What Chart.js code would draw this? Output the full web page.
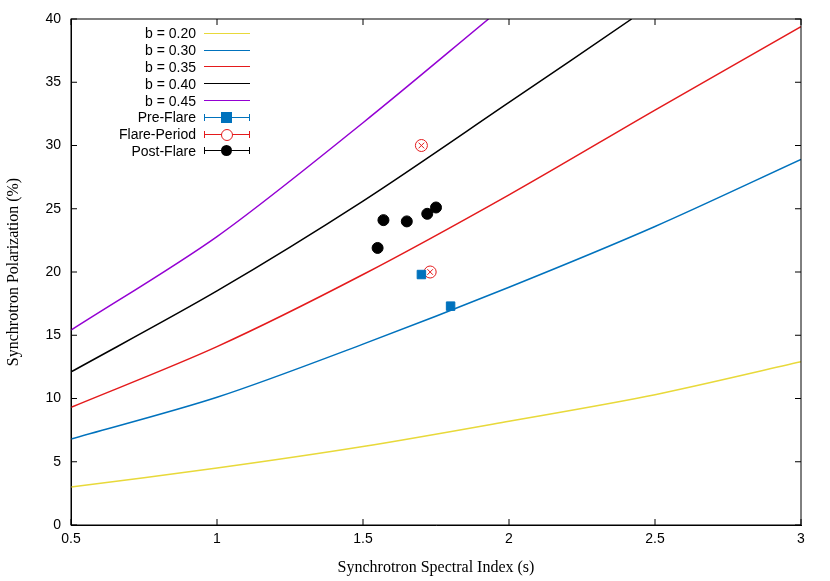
<!DOCTYPE html>
<html><head><meta charset="utf-8">
<script src="https://cdn.jsdelivr.net/npm/chart.js@4"></script>
<style>
body{margin:0;background:#fff}
#wrap{position:relative;width:830px;height:581px}
#legend{position:absolute;left:90px;top:25px;font:14px "Liberation Sans",Arial,sans-serif;color:#000}
#legend div{height:16.8px;display:flex;align-items:center;justify-content:flex-end;width:160px}
#legend span.l{display:inline-block;width:46px;height:0;margin-left:8px;position:relative}
</style></head>
<body><div id="wrap"><canvas id="c" width="830" height="581"></canvas><div id="legend"></div></div>
<script>
const xs = [0.5, 1.0, 1.5, 2.0, 2.5, 3.0];
const b20 = [3.0, 4.5, 6.2, 8.2, 10.3, 12.9];
const b30 = [6.8, 10.1, 14.3, 18.8, 23.6, 28.9];
const b35 = [9.3, 14.1, 19.8, 26.1, 32.8, 39.4];
const b40x = [0.5, 1.0, 1.5, 2.0, 2.42];
const b40 = [12.1, 18.5, 25.6, 33.4, 40];
const b45x = [0.5, 1.0, 1.5, 1.93];
const b45 = [15.4, 22.8, 31.8, 40];
const preFlare = [[1.70, 19.8], [1.80, 17.3]];
const flare = [[1.70, 30.0], [1.73, 20.0]];
const postFlare = [[1.55, 21.9], [1.57, 24.1], [1.65, 24.0], [1.72, 24.6], [1.75, 25.1]];

const pts = (x, y) => x.map((v, i) => ({x: v, y: y[i]}));
const xy = a => a.map(p => ({x: p[0], y: p[1]}));
const line = (label, data, color) => ({label, data, borderColor: color, borderWidth: 1.5, pointRadius: 0,
  showLine: true, fill: false, tension: 0.3});

new Chart(document.getElementById('c'), {
  type: 'scatter',
  data: {datasets: [
    line('b = 0.20', pts(xs, b20), '#e8d93a'),
    line('b = 0.30', pts(xs, b30), '#0072bd'),
    line('b = 0.35', pts(xs, b35), '#e41a1c'),
    line('b = 0.40', pts(b40x, b40), '#000000'),
    line('b = 0.45', pts(b45x, b45), '#9400d3'),
    {label: 'Pre-Flare', data: xy(preFlare), pointStyle: 'rect', pointRadius: 6, backgroundColor: '#0072bd', borderColor: '#0072bd'},
    {label: 'Flare-Period', data: xy(flare), pointStyle: 'crossRot', pointRadius: 4, borderColor: '#e41a1c', borderWidth: 1},
    {label: 'Flare-Period', data: xy(flare), pointStyle: 'circle', pointRadius: 6, borderColor: '#e41a1c', backgroundColor: 'transparent', borderWidth: 1},
    {label: 'Post-Flare', data: xy(postFlare), pointStyle: 'circle', pointRadius: 5.5, backgroundColor: '#000', borderColor: '#000'}
  ]},
  options: {
    responsive: false, animation: false, clip: true,
    layout: {padding: {top: 19, right: 29, bottom: 0, left: 0}},
    plugins: {legend: {display: false}, tooltip: {enabled: false}},
    scales: {
      x: {type: 'linear', min: 0.5, max: 3,
        ticks: {stepSize: 0.5, padding: 6, color: '#000', font: {family: 'Liberation Sans', size: 14}, callback: v => String(v)},
        grid: {display: false, drawTicks: false}, border: {color: '#000', width: 1},
        title: {display: true, text: 'Synchrotron Spectral Index (s)', color: '#000', font: {family: 'Liberation Serif', size: 16}}},
      y: {min: 0, max: 40,
        ticks: {stepSize: 5, padding: 10, color: '#000', font: {family: 'Liberation Sans', size: 14}},
        grid: {display: false, drawTicks: false}, border: {color: '#000', width: 1},
        afterFit: s => { s.width = 71; },
        title: {display: true, text: 'Synchrotron Polarization (%)', color: '#000', font: {family: 'Liberation Serif', size: 16}}}
    }
  },
  plugins: [{id: 'frame', afterDraw(ch) {
    const a = ch.chartArea, g = ch.ctx;
    g.save(); g.strokeStyle = '#000'; g.lineWidth = 1;
    g.strokeRect(a.left, a.top, a.right - a.left, a.bottom - a.top);
    g.beginPath();
    ch.scales.x.ticks.forEach(t => { const p = ch.scales.x.getPixelForValue(t.value);
      g.moveTo(p, a.bottom); g.lineTo(p, a.bottom - 6); g.moveTo(p, a.top); g.lineTo(p, a.top + 6); });
    ch.scales.y.ticks.forEach(t => { const p = ch.scales.y.getPixelForValue(t.value);
      g.moveTo(a.left, p); g.lineTo(a.left + 6, p); g.moveTo(a.right, p); g.lineTo(a.right - 6, p); });
    g.stroke(); g.restore();
  }}]
});

const leg = [
  ['b = 0.20', '#e8d93a', ''], ['b = 0.30', '#0072bd', ''], ['b = 0.35', '#e41a1c', ''],
  ['b = 0.40', '#000', ''], ['b = 0.45', '#9400d3', ''],
  ['Pre-Flare', '#0072bd', 'sq'], ['Flare-Period', '#e41a1c', 'ci'], ['Post-Flare', '#000', 'dot']
];
document.getElementById('legend').innerHTML = leg.map(([t, c, m]) => {
  let line = m ? `border-top:1px solid ${c};` : `border-top:1.5px solid ${c};`;
  let cap = m ? `<i style="position:absolute;left:0;top:-4px;height:7px;border-left:1px solid ${c}"></i><i style="position:absolute;right:0;top:-4px;height:7px;border-left:1px solid ${c}"></i>` : '';
  let mk = m === 'sq' ? `<i style="position:absolute;left:17px;top:-6px;width:11px;height:11px;background:${c}"></i>`
    : m === 'ci' ? `<i style="position:absolute;left:17px;top:-6px;width:10px;height:10px;border:1px solid ${c};border-radius:50%;background:#fff"></i>`
    : m === 'dot' ? `<i style="position:absolute;left:17px;top:-6px;width:11px;height:11px;border-radius:50%;background:${c}"></i>` : '';
  return `<div>${t}<span class="l" style="${line}">${cap}${mk}</span></div>`;
}).join('');
</script></body></html>
